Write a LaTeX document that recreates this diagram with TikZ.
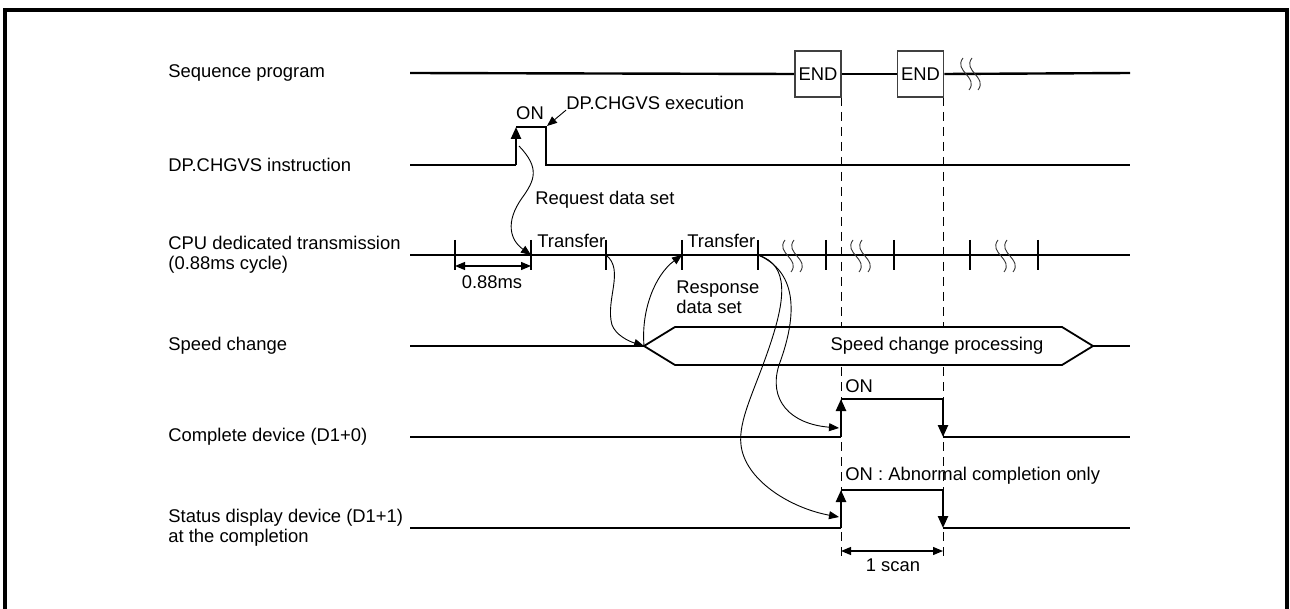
\documentclass[tikz,border=0pt]{standalone}
\usepackage{fontspec}
\setmainfont{Liberation Sans}
\usetikzlibrary{arrows.meta}

\begin{document}
\begin{tikzpicture}[
    x=0.5pt, y=-0.5pt,
    font=\fontsize{9.2pt}{9.8pt}\selectfont,
    lbl/.style={anchor=west, align=left, inner sep=0pt},
    txt/.style={inner sep=0pt},
    endbox/.style={draw=black!75, line width=0.9pt, fill=white,
      minimum width=23pt, minimum height=23pt, inner sep=0pt},
    sig/.style={line width=1.2pt},
    tck/.style={line width=0.9pt},
    edge/.style={-{Triangle[length=6pt,width=5pt]}, line width=1.2pt},
    guide/.style={dash pattern=on 4.5pt off 3pt, line width=0.5pt},
    dimarr/.style={{Triangle[length=5pt,width=4pt]}-{Triangle[length=5pt,width=4pt]}, line width=0.6pt},
    crv/.style={-{Triangle[length=5pt,width=4pt]}, line width=0.45pt},
    brk/.style={line width=0.45pt, black!80}
  ]
  \useasboundingbox (0,0) rectangle (1290,609);
  \draw[line width=2pt] (5,620) -- (5,10) -- (1287,10) -- (1287,620);

  % row labels
  \node[lbl] (seq) at (168,73)  {Sequence program};
  \node[lbl] (dp)  at (168,165) {DP.CHGVS instruction};
  \node[lbl] (cpu) at (168,255) {CPU dedicated transmission\\(0.88ms cycle)};
  \node[lbl] (spd) at (168,346) {Speed change};
  \node[lbl] (cmp) at (168,437) {Complete device (D1+0)};
  \node[lbl] (sts) at (168,528) {Status display device (D1+1)\\at the completion};

  % scan guides
  \draw[guide] (841,97) -- (841,558);
  \draw[guide] (943,97) -- (943,558);

  % sequence program
  \node[endbox] (end1) at (818,74)  {END};
  \node[endbox] (end2) at (920.5,74) {END};
  \draw[sig] (410,73) -- (end1.west);
  \draw[sig] (end1.east) -- (end2.west);
  \draw[sig] (end2.east) -- (1130,73);

  % instruction pulse
  \draw[sig] (410,165) -- (516,165);
  \draw[edge] (516,165) -- (516,127);
  \draw[sig] (516,127) -- (546,127) -- (546,165) -- (1130,165);
  \node[txt] (on1) at (530,113) {ON};
  \node[txt, anchor=west] (exe) at (566,103) {DP.CHGVS execution};
  \draw[crv] (exe.south west) -- (547,126);
  \node[txt, anchor=west] (req) at (535,200) {Request data set};

  % transmission cycle
  \draw[sig] (410,255) -- (1130,255);
  \foreach \x [count=\i] in {455,531,606,682,758,826,894,970,1038} {
    \coordinate (t\i) at (\x,255);
    \draw[tck] (\x,240) -- (\x,270);
  }
  \draw[dimarr] (455,266) -- (531,266);
  \node[txt] (ms) at (492,282) {0.88ms};
  \node[txt, anchor=west] (tr1) at (537,241) {Transfer};
  \node[txt, anchor=west] (tr2) at (687,241) {Transfer};
  \node[txt, anchor=west, align=left] (rsp) at (676,297) {Response\\data set};

  % break marks
  \foreach \x/\y in {966/58, 975/58, 788/240, 797/240, 856/240, 865/240, 1001/240, 1010/240}
    \draw[brk] (\x-3,\y) .. controls +(-10,13) and +(10,-13) .. (\x+3,\y+32);

  % speed change
  \coordinate (hexl) at (644,346);
  \coordinate (hexr) at (1093,346);
  \draw[line width=0.9pt, fill=white] (hexl) -- (675,327) -- (1062,327) -- (hexr)
    -- (1062,365) -- (675,365) -- cycle;
  \draw[sig] (410,346) -- (hexl);
  \draw[sig] (hexr) -- (1130,346);
  \node[txt] (spc) at (937,346) {Speed change processing};

  % complete device
  \draw[sig] (410,437) -- (841,437);
  \draw[edge] (841,437) -- (841,399);
  \draw[sig] (841,399) -- (943,399);
  \draw[edge] (943,399) -- (943,437);
  \draw[sig] (943,437) -- (1130,437);
  \node[txt, anchor=west] (on2) at (845,386) {ON};

  % status display device
  \draw[sig] (410,528) -- (841,528);
  \draw[edge] (841,528) -- (841,490);
  \draw[sig] (841,490) -- (943,490);
  \draw[edge] (943,490) -- (943,528);
  \draw[sig] (943,528) -- (1130,528);
  \node[txt, anchor=west] (on3) at (845,476) {ON : Abnormal completion only};

  \draw[dimarr] (841,551) -- (943,551);
  \node[txt] (scan) at (893,565) {1 scan};

  % data flow
  \draw[crv] (519,146) .. controls (540,168) and (535,180) .. (522,198)
    .. controls (505,222) and (510,240) .. (t2);
  \draw[crv] (t3) .. controls (625,270) and (605,300) .. (612,325)
    .. controls (616,335) and (628,341) .. (hexl);
  \draw[crv] (hexl) .. controls (641,310) and (655,275) .. (t4);
  \draw[crv] (t5) .. controls (805,275) and (792,330) .. (779,365)
    .. controls (768,400) and (790,424) .. (839,428);
  \draw[crv] (t5) .. controls (790,265) and (785,300) .. (770,345)
    .. controls (755,390) and (738,420) .. (741,445)
    .. controls (745,480) and (790,508) .. (839,517);
\end{tikzpicture}
\end{document}
